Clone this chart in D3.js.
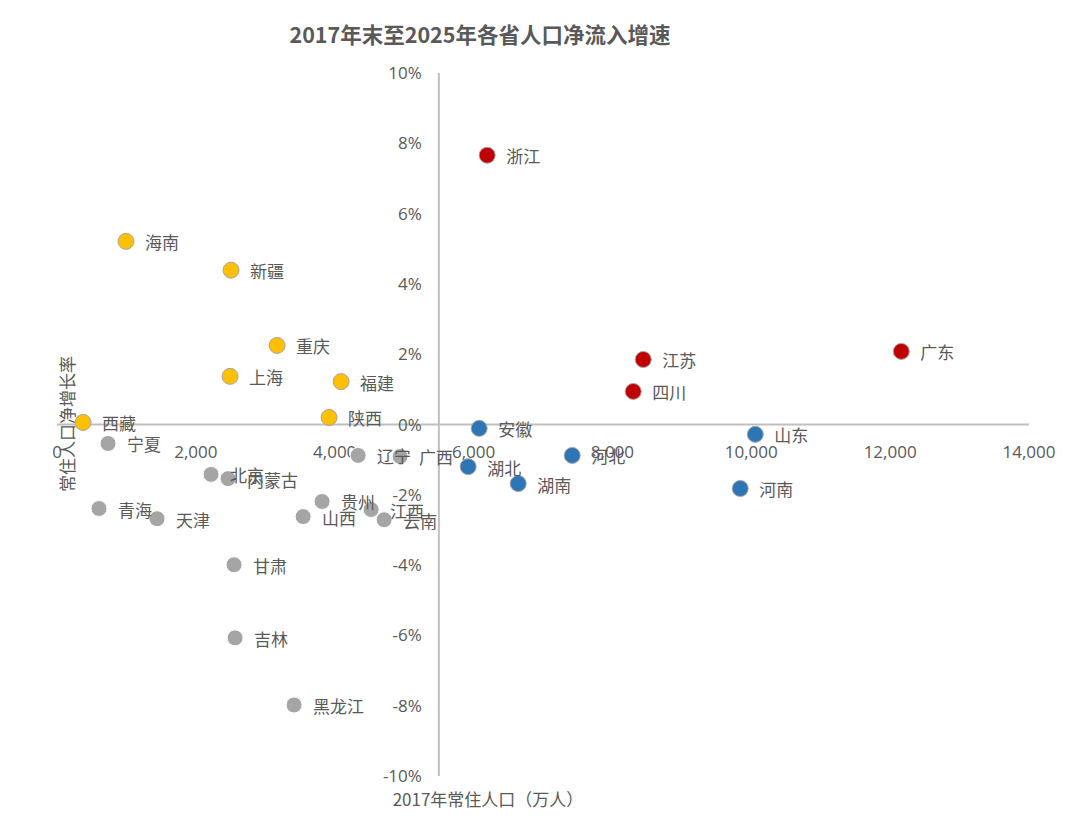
<!DOCTYPE html>
<html><head><meta charset="utf-8">
<script src="https://cdn.jsdelivr.net/npm/d3@7"></script>
<style>body{margin:0;background:#fff;font-family:"Noto Sans CJK SC","Noto Sans",sans-serif;}</style>
</head><body><svg id="c" width="1080" height="838"></svg>
<script>
const names = ["浙江","江苏","四川","广东","海南","新疆","重庆","上海","福建","陕西","西藏","宁夏","北京","内蒙古","青海","天津","辽宁","广西","贵州","江西","云南","山西","甘肃","吉林","黑龙江","安徽","湖北","湖南","河北","山东","河南"];
const pop2017 = [6196,8444,8300,12161,994,2507,3170,2493,4092,3919,375,735,2219,2464,605,1441,4337,4942,3818,4524,4712,3545,2550,2565,3415,6081,5922,6643,7421,10058,9841];
const growth = [7.66,1.85,0.94,2.08,5.21,4.39,2.25,1.37,1.22,0.20,0.06,-0.54,-1.42,-1.54,-2.39,-2.68,-0.88,-0.91,-2.19,-2.42,-2.71,-2.62,-3.99,-6.07,-7.98,-0.11,-1.20,-1.68,-0.88,-0.28,-1.82];
const group = ["r","r","r","r","y","y","y","y","y","y","y","g","g","g","g","g","g","g","g","g","g","g","g","g","g","b","b","b","b","b","b"];
const xTicks = [0,2000,4000,6000,8000,10000,12000,14000];
const yTicks = [-10,-8,-6,-4,-2,0,2,4,6,8,10];
const colors = {r:"#C00000",y:"#FFC000",g:"#A5A5A5",b:"#2E75B6"};

const svg = d3.select("#c");
const x = d3.scaleLinear().domain([0,14000]).range([57,1029]);
const y = d3.scaleLinear().domain([-10,10]).range([776,73]);
const txt = "#595959", axc = "#BFBFBF";

svg.append("text").attr("x",480).attr("y",43).attr("text-anchor","middle")
  .attr("font-size",21.5).attr("font-weight","bold").attr("fill",txt).text("2017年末至2025年各省人口净流入增速");

svg.append("line").attr("x1",x(0)).attr("x2",x(14000)).attr("y1",y(0)).attr("y2",y(0)).attr("stroke",axc).attr("stroke-width",2);
svg.append("line").attr("x1",x(5500)).attr("x2",x(5500)).attr("y1",y(10)).attr("y2",y(-10)).attr("stroke",axc).attr("stroke-width",2);

svg.selectAll(".xt").data(xTicks).enter().append("text")
  .attr("x",d=>x(d)).attr("y",y(0)+33).attr("text-anchor","middle")
  .attr("font-size",17).attr("fill",txt).attr("font-family","Open Sans, sans-serif")
  .text(d=>d3.format(",")(d));
svg.selectAll(".yt").data(yTicks).enter().append("text")
  .attr("x",x(5500)-17).attr("y",d=>y(d)+6).attr("text-anchor","end")
  .attr("font-size",17).attr("fill",txt).attr("font-family","Open Sans, sans-serif")
  .text(d=>d+"%");

svg.append("text").attr("transform",`translate(74,424) rotate(-90)`).attr("text-anchor","middle")
  .attr("font-size",17).attr("fill",txt).text("常住人口净增长率");
svg.append("text").attr("x",488).attr("y",806).attr("text-anchor","middle")
  .attr("font-size",17).attr("fill",txt).text("2017年常住人口（万人）");

const data = names.map((n,i)=>({n,px:pop2017[i],g:growth[i],c:group[i]}));
svg.selectAll("circle").data(data).enter().append("circle")
  .attr("cx",d=>x(d.px)).attr("cy",d=>y(d.g)).attr("r",8)
  .attr("fill",d=>colors[d.c]).attr("stroke",d=>d.c==="g"?"#fff":"#A5A5A5").attr("stroke-width",1);
svg.selectAll(".lb").data(data).enter().append("text")
  .attr("x",d=>x(d.px)+19).attr("y",d=>y(d.g)+8)
  .attr("font-size",17).attr("fill",txt).text(d=>d.n);
</script></body></html>
